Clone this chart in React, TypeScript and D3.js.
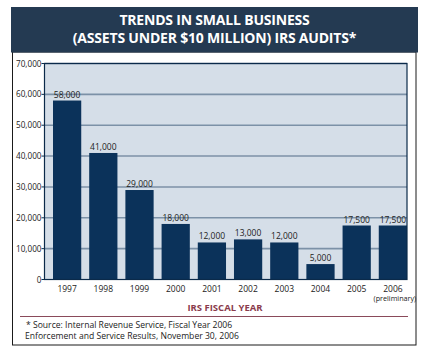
import React from "react";
import * as d3 from "d3";

const years = ["1997", "1998", "1999", "2000", "2001", "2002", "2003", "2004", "2005", "2006"];
const audits = [58000, 41000, 29000, 18000, 12000, 13000, 12000, 5000, 17500, 17500];
const valueLabels = ["58,000", "41,000", "29,000", "18,000", "12,000", "13,000", "12,000", "5,000", "17,500", "17,500"];
const yTicks = [0, 10000, 20000, 30000, 40000, 50000, 60000, 70000];
const titleLines = ["TRENDS IN SMALL BUSINESS", "(ASSETS UNDER $10 MILLION) IRS AUDITS*"];
const xAxisTitle = "IRS FISCAL YEAR";
const footnotes = ["* Source: Internal Revenue Service, Fiscal Year 2006", "Enforcement and Service Results, November 30, 2006"];
const subNote = "(preliminary)";

export default function App() {
  const W = 426, H = 356;
  const plot = { left: 44.5, right: 407, top: 63.5, bottom: 279.5 };
  const x = d3.scaleBand<string>().domain(years).range([53, 407]).paddingInner(0.22).paddingOuter(0);
  const y = d3.scaleLinear().domain([0, 70000]).range([plot.bottom, plot.top]);
  const fmt = d3.format(",");
  const font = "'Open Sans', sans-serif";
  return (
    <svg width={W} height={H} style={{ position: "absolute", left: 0, top: 0, background: "#fff" }}>
      <rect x={12.5} y={52} width={403.5} height={293} fill="#fff" stroke="#1a1a1a" strokeWidth={1} />
      <rect x={11} y={7} width={407} height={45.5} fill="#243a52" />
      {titleLines.map((t, i) => (
        <text key={i} x={214.5} y={25 + i * 18} textAnchor="middle" fill="#fff" fontFamily={font} fontWeight={700} fontSize={14} letterSpacing={-0.2}>{t}</text>
      ))}
      <rect x={plot.left} y={plot.top} width={plot.right - plot.left} height={plot.bottom - plot.top} fill="#d5dee8" />
      {yTicks.filter(t => t > 0).map(t => (
        <line key={t} x1={plot.left} x2={plot.right} y1={y(t)} y2={y(t)} stroke="#7c91a7" strokeWidth={1.6} />
      ))}
      {audits.map((v, i) => (
        <rect key={years[i]} x={x(years[i])} y={y(v)} width={x.bandwidth()} height={plot.bottom - y(v)} fill="#0b325a" />
      ))}
      <rect x={plot.left} y={plot.top} width={plot.right - plot.left} height={plot.bottom - plot.top} fill="none" stroke="#0b2a4a" strokeWidth={1.2} />
      {yTicks.map(t => (
        <g key={t}>
          <line x1={plot.left - 3} x2={plot.left} y1={y(t)} y2={y(t)} stroke="#0b2a4a" strokeWidth={1} />
          <text x={plot.left - 3} y={y(t) + 3} textAnchor="end" fontFamily={font} fontSize={8.2} fill="#222">{fmt(t)}</text>
        </g>
      ))}
      {audits.map((v, i) => (
        <text key={years[i]} x={(x(years[i]) as number) + x.bandwidth() / 2} y={y(v) - 3} textAnchor="middle" fontFamily={font} fontSize={8.5} fill="#222">{valueLabels[i]}</text>
      ))}
      {years.map(yr => (
        <text key={yr} x={(x(yr) as number) + x.bandwidth() / 2} y={292} textAnchor="middle" fontFamily={font} fontSize={8.5} fill="#222">{yr}</text>
      ))}
      <text x={(x("2006") as number) + x.bandwidth() / 2 + 2} y={301} textAnchor="middle" fontFamily={font} fontSize={7.2} fill="#222">{subNote}</text>
      <text x={225} y={311} textAnchor="middle" fontFamily={font} fontWeight={700} fontSize={9.5} fill="#8a3b4c">{xAxisTitle}</text>
      <line x1={20} x2={408} y1={316.5} y2={316.5} stroke="#8a4a5a" strokeWidth={1} />
      {footnotes.map((f, i) => (
        <text key={i} x={i === 0 ? 26 : 25} y={328 + i * 11} fontFamily={font} fontSize={8.6} fill="#222">{f}</text>
      ))}
    </svg>
  );
}
